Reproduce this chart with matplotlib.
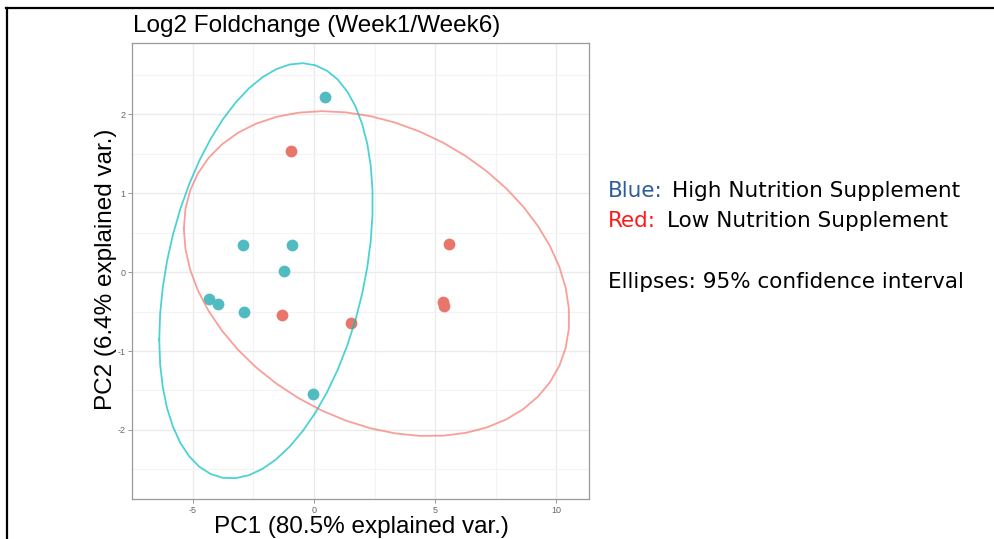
import numpy as np
import matplotlib.pyplot as plt
from matplotlib.lines import Line2D

plt.rcParams['font.family'] = ['Liberation Sans', 'DejaVu Sans']
plt.rcParams['axes.unicode_minus'] = False

# PC scores per group (PC1, PC2)
high_pc1 = [0.45, -2.94, -0.91, -1.23, -4.34, -3.96, -2.90, -0.03]
high_pc2 = [2.22, 0.35, 0.345, 0.02, -0.34, -0.405, -0.50, -1.55]
low_pc1 = [-0.93, -1.33, 1.52, 5.57, 5.31, 5.35]
low_pc2 = [1.54, -0.54, -0.65, 0.354, -0.38, -0.435]

x_ticks = [-5, 0, 5, 10]
y_ticks = [-2, -1, 0, 1, 2]

TEAL = "#00BFC4"
SALMON = "#F8766D"
TEAL_PT = "#50BBC1"
SALMON_PT = "#E8766B"
ELL_PROB = 0.95

W, H = 995, 539


def conf_ellipse(x, y, prob=ELL_PROB, n=50):
    # normal-theory ellipse around the group mean, like ggbiplot
    xy = np.column_stack([x, y])
    mu = xy.mean(axis=0)
    sigma = np.cov(xy, rowvar=False)
    ed = np.sqrt(-2 * np.log(1 - prob))  # chi-square quantile, df = 2
    theta = np.linspace(-np.pi, np.pi, n)
    circle = np.column_stack([np.cos(theta), np.sin(theta)])
    pts = circle @ np.linalg.cholesky(sigma).T * ed + mu
    return pts[:, 0], pts[:, 1]


fig = plt.figure(figsize=(W / 100, H / 100), dpi=100)
ax = fig.add_axes([132.3 / W, 1 - 499.3 / H, (589 - 132.3) / W, (499.3 - 42.7) / H])

ax.scatter(high_pc1, high_pc2, s=72, color=TEAL_PT, linewidths=0, zorder=3)
ax.scatter(low_pc1, low_pc2, s=72, color=SALMON_PT, linewidths=0, zorder=3)

for xs, ys, col in [(high_pc1, high_pc2, TEAL), (low_pc1, low_pc2, SALMON)]:
    ex, ey = conf_ellipse(xs, ys)
    ax.plot(ex, ey, color=col, lw=1.3, alpha=0.7, zorder=4)

ax.set_xlim(-7.21, 11.35)
ax.set_ylim(-2.88, 2.91)
ax.set_xticks(x_ticks)
ax.set_yticks(y_ticks)
ax.set_xticks([-7.5, -2.5, 2.5, 7.5], minor=True)
ax.set_yticks([-2.5, -1.5, -0.5, 0.5, 1.5, 2.5], minor=True)
ax.grid(which='major', color='#EBEBEB', lw=1.0, zorder=0)
ax.grid(which='minor', color='#F3F3F3', lw=0.8, zorder=0)
ax.set_axisbelow(True)
ax.tick_params(which='major', length=3, width=0.6, color='#888888',
               labelsize=6.5, labelcolor='#666666', pad=2)
ax.tick_params(which='minor', length=0)
for sp in ax.spines.values():
    sp.set_color('#9A9A9A')
    sp.set_linewidth(0.9)

# axis titles and plot title
fig.text(361 / W, 1 - 533 / H, "PC1 (80.5% explained var.)", fontsize=17.5,
         ha='center', va='baseline')
fig.text(106 / W, 1 - 269 / H, "PC2 (6.4% explained var.)", fontsize=17.5,
         rotation=90, ha='center', va='center')
fig.text(133 / W, 1 - 32 / H, "Log2 Foldchange (Week1/Week6)", fontsize=17.5,
         ha='left', va='baseline')

# annotation block on the right
note_font = ['DejaVu Sans']
tx = 608 / W
fig.text(tx, 1 - 197.3 / H, "Blue:", color="#2F5C9A", fontsize=15.5,
         family=note_font, va='baseline')
fig.text(tx + 0.064, 1 - 197.3 / H, "High Nutrition Supplement", color='black',
         fontsize=15.5, family=note_font, va='baseline')
fig.text(tx, 1 - 226.7 / H, "Red:", color="#FF1A1A", fontsize=15.5,
         family=note_font, va='baseline')
fig.text(tx + 0.059, 1 - 226.7 / H, "Low Nutrition Supplement", color='black',
         fontsize=15.5, family=note_font, va='baseline')
fig.text(tx, 1 - 288.3 / H, "Ellipses: 95% confidence interval", color='black',
         fontsize=15.5, family=note_font, va='baseline')

# frame lines along the top and left edges
fig.add_artist(Line2D([6 / W, 1.0], [1 - 7.5 / H] * 2, color='black', lw=1.6))
fig.add_artist(Line2D([7 / W] * 2, [0.0, 1 - 7.5 / H], color='black', lw=1.6))

fig.savefig("out.png", dpi=100)
